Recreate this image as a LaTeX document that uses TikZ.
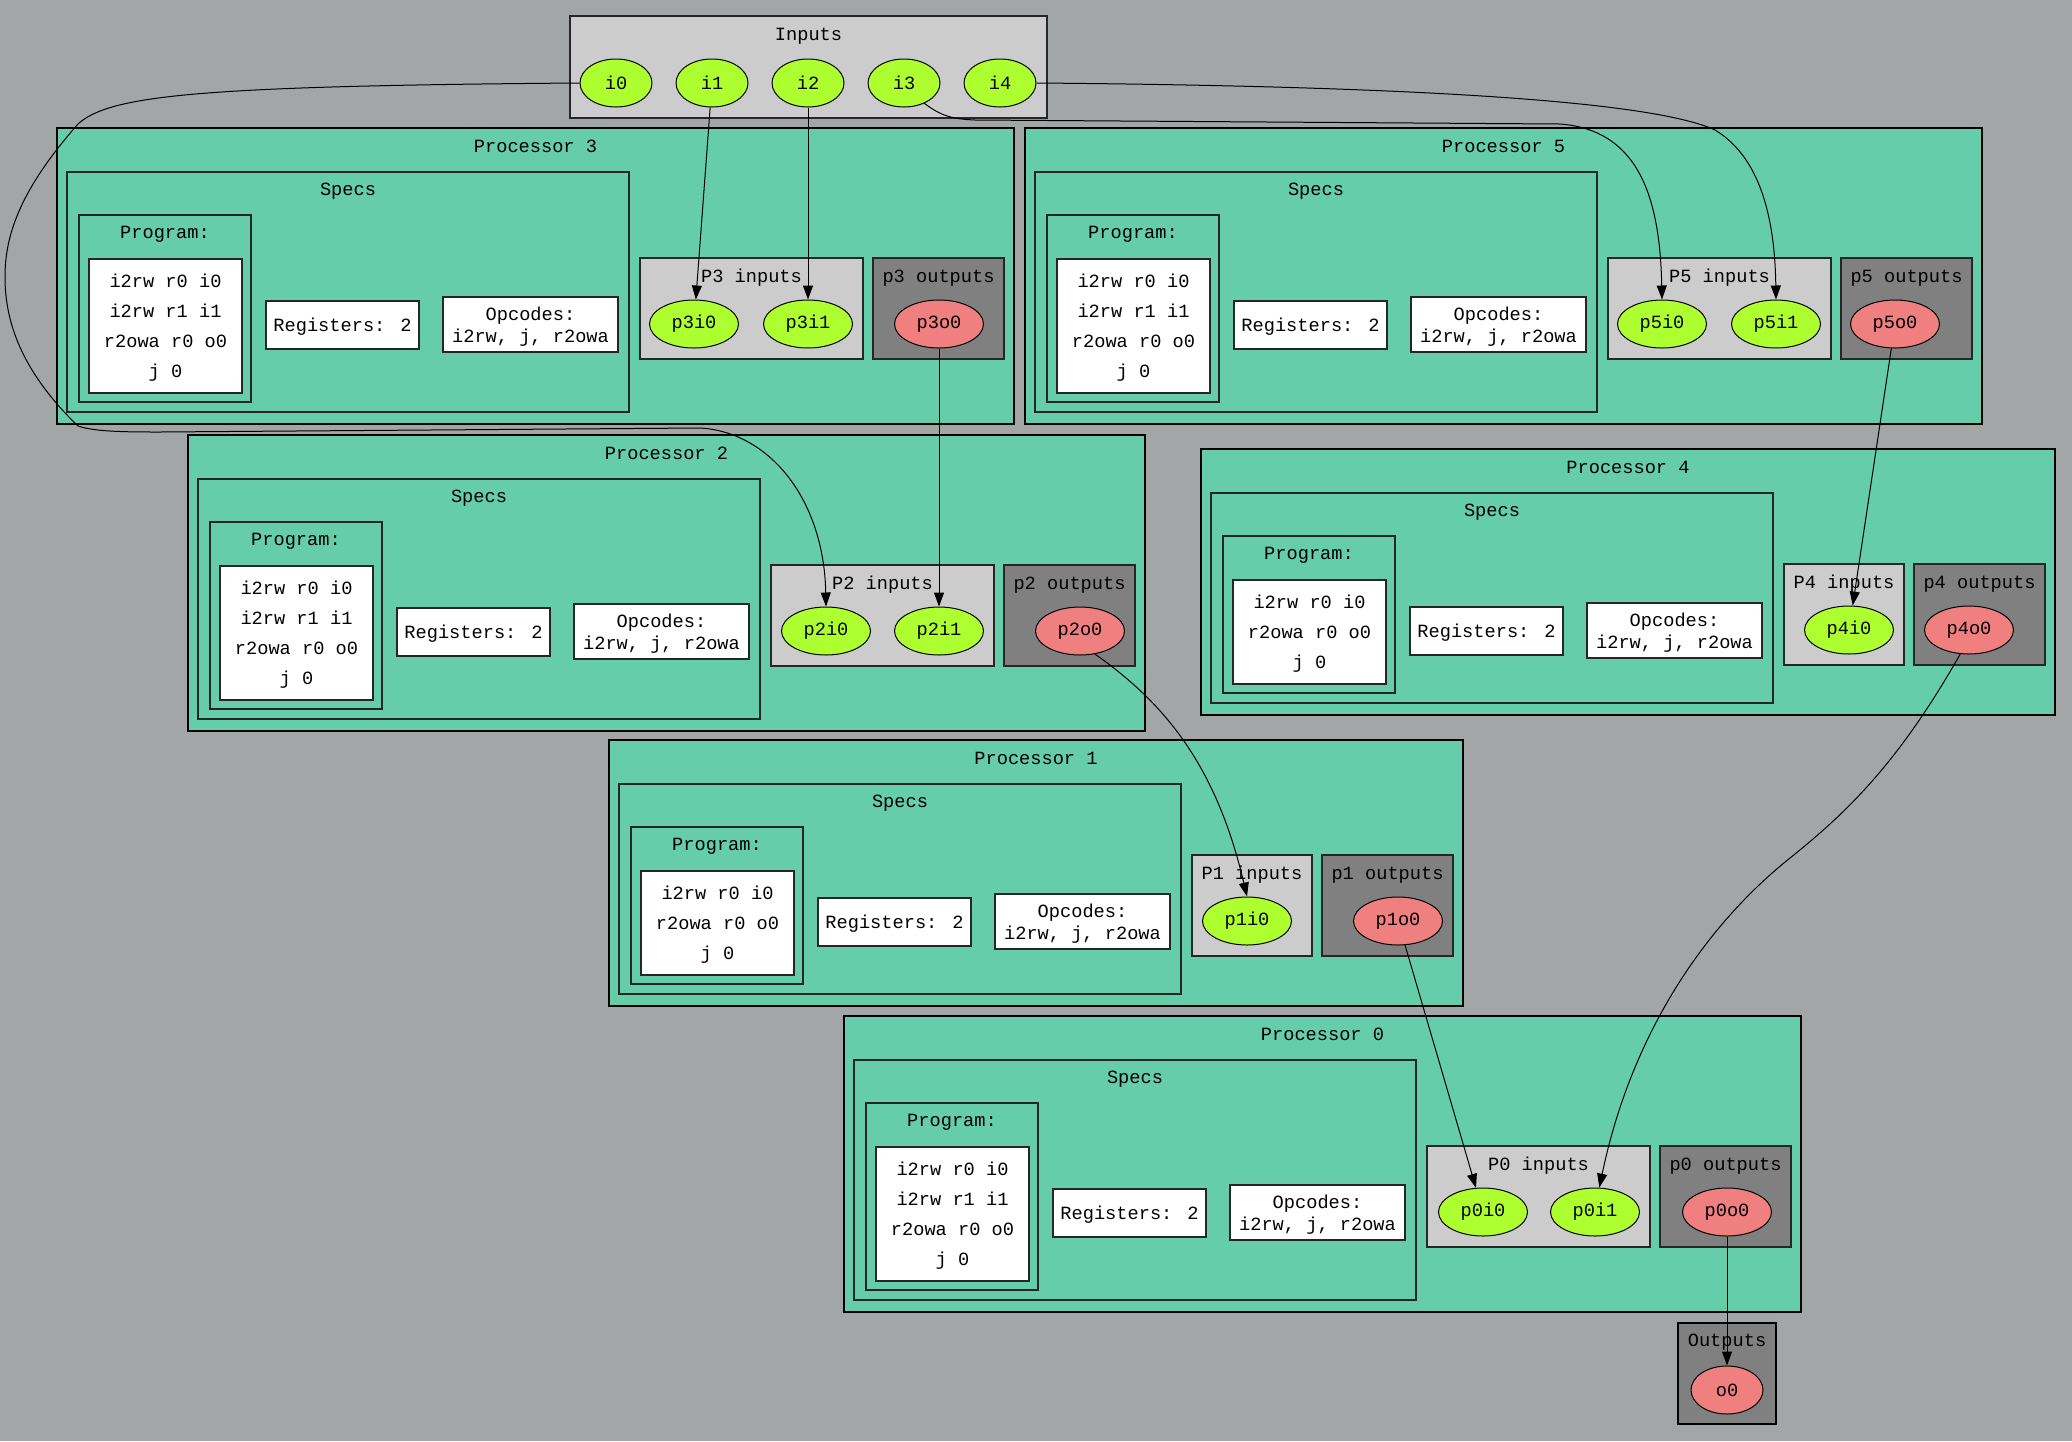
\documentclass[tikz,border=0pt]{standalone}
\usepackage{fontspec}
\newfontfamily\monofont{Liberation Mono}
\usetikzlibrary{arrows.meta,shapes.geometric}

\definecolor{bggray}{RGB}{162,166,166}
\definecolor{procgreen}{HTML}{66CDAA}
\definecolor{inbg}{HTML}{CCCCCC}
\definecolor{outbg}{HTML}{808080}
\definecolor{ingreen}{HTML}{ADFF2F}
\definecolor{outred}{HTML}{F08080}

\tikzset{
	procbox/.style={draw=black, line width=0.55pt, fill=procgreen},
	innerbox/.style={draw=black!85, line width=0.65pt, fill=procgreen},
	whitebox/.style={draw=black!85, line width=0.65pt, fill=white},
	inbox/.style={draw=black!85, line width=0.65pt, fill=inbg},
	outbox/.style={draw=black!85, line width=0.65pt, fill=outbg},
	lbl/.style={font=\monofont\fontsize{9.33}{11}\selectfont, inner sep=0pt, anchor=base},
	port/.style={ellipse, draw=black, line width=0.5pt, minimum width=44.5pt, minimum height=24pt, inner sep=0pt, font=\monofont\fontsize{9.33}{11}\selectfont},
	inport/.style={port, fill=ingreen},
	outport/.style={port, fill=outred},
	wire/.style={->, line width=0.5pt},
	>={Triangle[length=7pt,width=5pt]}
}

% #1 number, #2 #3 top left, #4 extra height, #5 inputs width, #6 program lines
\newcommand{\processor}[6]{%
	\pgfmathsetmacro{\procw}{734+#5}
	\pgfmathsetmacro{\proch}{266+#4}
	\pgfmathsetmacro{\halfd}{#4/2}
	\draw[procbox] (#2,#3) rectangle ({#2+\procw},{#3+\proch});
	\node[lbl] (p#1-title) at ({#2+\procw/2},{#3+24}) {Processor #1};
	% specs
	\draw[innerbox] ({#2+10},{#3+44}) rectangle ({#2+572},{#3+254+#4});
	\node[lbl] (p#1-specs) at ({#2+291},{#3+67}) {Specs};
	\draw[innerbox] ({#2+22},{#3+87}) rectangle ({#2+194},{#3+244+#4});
	\node[lbl] (p#1-prog) at ({#2+108},{#3+110}) {Program:};
	\draw[whitebox] ({#2+32},{#3+131}) rectangle ({#2+185},{#3+235+#4});
	\foreach \codeline [count=\k] in {#6} {
		\node[lbl] (p#1-line\k) at ({#2+108.5},{#3+159+30*(\k-1)}) {\codeline};
	}
	\draw[whitebox] ({#2+209},{#3+158+\halfd}) rectangle ({#2+362},{#3+206+\halfd});
	\node[lbl] (p#1-regs) at ({#2+285.5},{#3+188+\halfd}) {Registers: 2};
	\draw[whitebox] ({#2+386},{#3+154+\halfd}) rectangle ({#2+561},{#3+209+\halfd});
	\node[lbl] (p#1-ops) at ({#2+473.5},{#3+177+\halfd}) {Opcodes:};
	\node[lbl] (p#1-opl) at ({#2+473.5},{#3+199+\halfd}) {i2rw, j, r2owa};
	% ports
	\draw[inbox] ({#2+583},{#3+115+\halfd}) rectangle ({#2+583+#5},{#3+216+\halfd});
	\node[lbl] (p#1-inl) at ({#2+583+#5/2},{#3+139+\halfd}) {P#1 inputs};
	\draw[outbox] ({#2+593+#5},{#3+115+\halfd}) rectangle ({#2+724+#5},{#3+216+\halfd});
	\node[lbl] (p#1-outl) at ({#2+658.5+#5},{#3+139+\halfd}) {p#1 outputs};
}

\begin{document}
\begin{tikzpicture}[x=0.5pt,y=-0.5pt]
	\fill[bggray] (0,0) rectangle (2072,1441);
	\useasboundingbox (0,0) rectangle (2072,1441);

	% inputs
	\draw[inbox] (570,16) rectangle (1047,118);
	\node[lbl] (in-title) at (808.5,40) {Inputs};
	\foreach \i in {0,...,4} {
		\node[inport, minimum width=36pt] (i\i) at ({616+96*\i},83) {i\i};
	}

	% processors
	\processor{3}{57}{128}{30}{223}{i2rw r0 i0,i2rw r1 i1,r2owa r0 o0,j 0}
	\processor{5}{1025}{128}{30}{223}{i2rw r0 i0,i2rw r1 i1,r2owa r0 o0,j 0}
	\processor{2}{188}{435}{30}{223}{i2rw r0 i0,i2rw r1 i1,r2owa r0 o0,j 0}
	\processor{4}{1201}{449}{0}{120}{i2rw r0 i0,r2owa r0 o0,j 0}
	\processor{1}{609}{740}{0}{120}{i2rw r0 i0,r2owa r0 o0,j 0}
	\processor{0}{844}{1016}{30}{223}{i2rw r0 i0,i2rw r1 i1,r2owa r0 o0,j 0}

	\node[inport] (p3i0) at (694,324) {p3i0};
	\node[inport] (p3i1) at (808,324) {p3i1};
	\node[outport] (p3o0) at (939,324) {p3o0};
	\node[inport] (p5i0) at (1662,324) {p5i0};
	\node[inport] (p5i1) at (1776,324) {p5i1};
	\node[outport] (p5o0) at (1895,324) {p5o0};
	\node[inport] (p2i0) at (826,631) {p2i0};
	\node[inport] (p2i1) at (939,631) {p2i1};
	\node[outport] (p2o0) at (1080,631) {p2o0};
	\node[inport] (p4i0) at (1849,630) {p4i0};
	\node[outport] (p4o0) at (1969,630) {p4o0};
	\node[inport] (p1i0) at (1247,921) {p1i0};
	\node[outport] (p1o0) at (1398,921) {p1o0};
	\node[inport] (p0i0) at (1483,1212) {p0i0};
	\node[inport] (p0i1) at (1595,1212) {p0i1};
	\node[outport] (p0o0) at (1727,1212) {p0o0};

	% outputs
	\draw[outbox, draw=black] (1678,1323) rectangle (1776,1424);
	\node[lbl] (out-title) at (1727,1346) {Outputs};
	\node[outport, minimum width=36pt] (o0) at (1727,1390) {o0};

	% wires
	\draw[wire] (i0.west) .. controls (200,86) and (110,95) .. (78,124)
		.. controls (20,190) and (5,235) .. (5,277)
		.. controls (5,320) and (20,370) .. (78,426)
		.. controls (95,432) and (130,432) .. (160,432) -- (700,428)
		.. controls (770,432) and (824,500) .. (p2i0.north);
	\draw[wire] (i1) -- (p3i0);
	\draw[wire] (i2) -- (p3i1);
	\draw[wire] (i3.-45) .. controls (940,115) and (950,119) .. (975,120) -- (1560,124)
		.. controls (1640,130) and (1660,200) .. (p5i0.north);
	\draw[wire] (i4.east) .. controls (1400,86) and (1650,100) .. (1715,130)
		.. controls (1765,160) and (1775,230) .. (p5i1.north);
	\draw[wire] (p3o0) -- (p2i1);
	\draw[wire] (p5o0) -- (p4i0);
	\draw[wire] (p2o0.-57) .. controls (1160,700) and (1215,760) .. (p1i0.north);
	\draw[wire] (p1o0) -- (p0i0);
	\draw[wire] (p4o0.-110) .. controls (1900,760) and (1850,810) .. (1790,858)
		.. controls (1700,930) and (1630,1040) .. (p0i1.80);
	\draw[wire] (p0o0) -- (o0);
\end{tikzpicture}
\end{document}
